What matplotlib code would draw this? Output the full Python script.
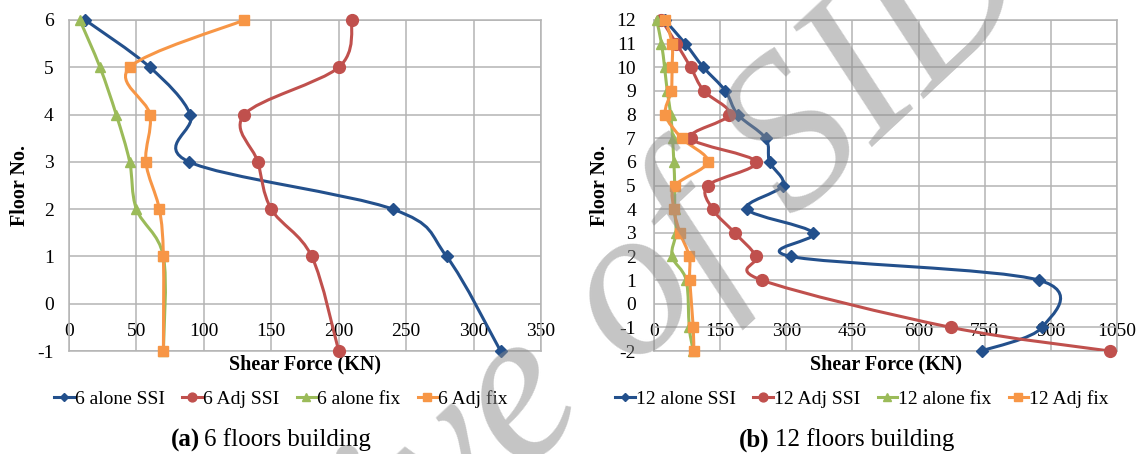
import matplotlib
matplotlib.use('Agg')
import matplotlib.pyplot as plt
from matplotlib.path import Path
from matplotlib.patches import PathPatch
from matplotlib.lines import Line2D
import numpy as np

plt.rcParams['font.family'] = ['Liberation Serif', 'DejaVu Serif']
plt.rcParams['axes.unicode_minus'] = False

# (a) 6 floors building
floors6 = [6, 5, 4, 3, 2, 1, -1]
alone_ssi6 = [12, 60, 90, 89, 240, 280, 320]
adj_ssi6 = [210, 200, 130, 140, 150, 180, 200]
alone_fix6 = [8, 23, 35, 45, 50, 70, 70]
adj_fix6 = [130, 45, 60, 57, 67, 70, 70]

# (b) 12 floors building
floors12 = [12, 11, 10, 9, 8, 7, 6, 5, 4, 3, 2, 1, -1, -2]
alone_ssi12 = [24, 71, 112, 162, 190, 253, 262, 292, 211, 361, 310, 872, 880, 743]
adj_ssi12 = [17, 51, 83, 113, 171, 83, 231, 122, 133, 183, 232, 244, 673, 1033]
alone_fix12 = [6, 17, 24, 30, 38, 42, 45, 47, 47, 50, 41, 73, 80, 89]
adj_fix12 = [26, 41, 41, 39, 26, 63, 122, 48, 45, 59, 80, 81, 89, 90]

colors = ['#23508C', '#C0504D', '#9BBB59', '#F79646']
markers = ['D', 'o', '^', 's']
msizes = [6, 8.5, 7.5, 7.5]
grid_col = '#B4B4B4'


def smooth_patch(xs, ys, color):
    # Excel-like smoothed line: cubic Bezier through the points
    pts = np.column_stack([xs, ys]).astype(float)
    verts = [pts[0]]
    codes = [Path.MOVETO]
    n = len(pts)
    for i in range(n - 1):
        p0 = pts[i - 1] if i > 0 else pts[i]
        p1 = pts[i]
        p2 = pts[i + 1]
        p3 = pts[i + 2] if i + 2 < n else pts[i + 1]
        verts += [p1 + (p2 - p0) / 6, p2 - (p3 - p1) / 6, p2]
        codes += [Path.CURVE4] * 3
    return PathPatch(Path(verts, codes), facecolor='none', edgecolor=color,
                     lw=2.2, capstyle='round', joinstyle='round', zorder=3)


def draw_panel(ax, floors, series, xmax, xstep, ymin, ymax, ylabpad, ylabx):
    for vals, c, m, ms in zip(series, colors, markers, msizes):
        ax.add_patch(smooth_patch(vals, floors, c))
        ax.plot(vals, floors, linestyle='none', marker=m, color=c,
                markersize=ms, zorder=4, clip_on=False)
    ax.set_xlim(0, xmax)
    ax.set_ylim(ymin, ymax)
    ax.set_xticks(np.arange(0, xmax + 1, xstep))
    ax.set_yticks(np.arange(ymin, ymax + 1, 1))
    ax.grid(True, color=grid_col, lw=1.1)
    ax.set_axisbelow(True)
    for s in ax.spines.values():
        s.set_color(grid_col)
        s.set_linewidth(1.1)
    ax.tick_params(axis='x', length=0, pad=-20, labelsize=14)
    ax.tick_params(axis='y', length=0, pad=ylabpad, labelsize=14)
    ax.set_xlabel('Shear Force (KN)', fontsize=14.5, fontweight='bold')
    ax.xaxis.set_label_coords(0.5, -0.01)
    ax.set_ylabel('Floor No.', fontsize=14.5, fontweight='bold')
    ax.yaxis.set_label_coords(ylabx, 0.5)


fig = plt.figure(figsize=(11.4, 4.54), dpi=100)
ax1 = fig.add_axes([69 / 1140, 103 / 454, 472 / 1140, 331 / 454])
ax2 = fig.add_axes([654 / 1140, 103 / 454, 463 / 1140, 331 / 454])

draw_panel(ax1, floors6, [alone_ssi6, adj_ssi6, alone_fix6, adj_fix6],
           350, 50, -1, 6, 11, -0.082)
draw_panel(ax2, floors12, [alone_ssi12, adj_ssi12, alone_fix12, adj_fix12],
           1050, 150, -2, 12, 13, -0.095)


def legend_for(prefix, xc):
    names = ['alone SSI', 'Adj SSI', 'alone fix', 'Adj fix']
    handles = [Line2D([], [], color=c, marker=m, markersize=ms * 0.75, lw=2.2)
               for c, m, ms in zip(colors, markers, msizes)]
    fig.legend(handles, [f'{prefix} {n}' for n in names], loc='center',
               bbox_to_anchor=(xc, 1 - 399 / 454), ncol=4, frameon=False,
               fontsize=14, handlelength=1.0, handletextpad=0.05,
               columnspacing=0.9)


legend_for('6', 281 / 1140)
legend_for('12', 862 / 1140)

# captions
cy = 1 - 440 / 454
fig.text(200 / 1140, cy, '(a)', fontsize=18, fontweight='bold', ha='right', va='center')
fig.text(204 / 1140, cy, '6 floors building', fontsize=18, ha='left', va='center')
fig.text(770 / 1140, cy, '(b)', fontsize=18, fontweight='bold', ha='right', va='center')
fig.text(775 / 1140, cy, '12 floors building', fontsize=18, ha='left', va='center')

# watermark
fig.text(540 / 1140, 1 - 395 / 454, 'Archive of SID', fontsize=156, style='italic',
         color='#8C8C8C', alpha=0.5, rotation=43, rotation_mode='anchor',
         ha='center', va='center', zorder=10)

fig.savefig('out.png', dpi=100)
